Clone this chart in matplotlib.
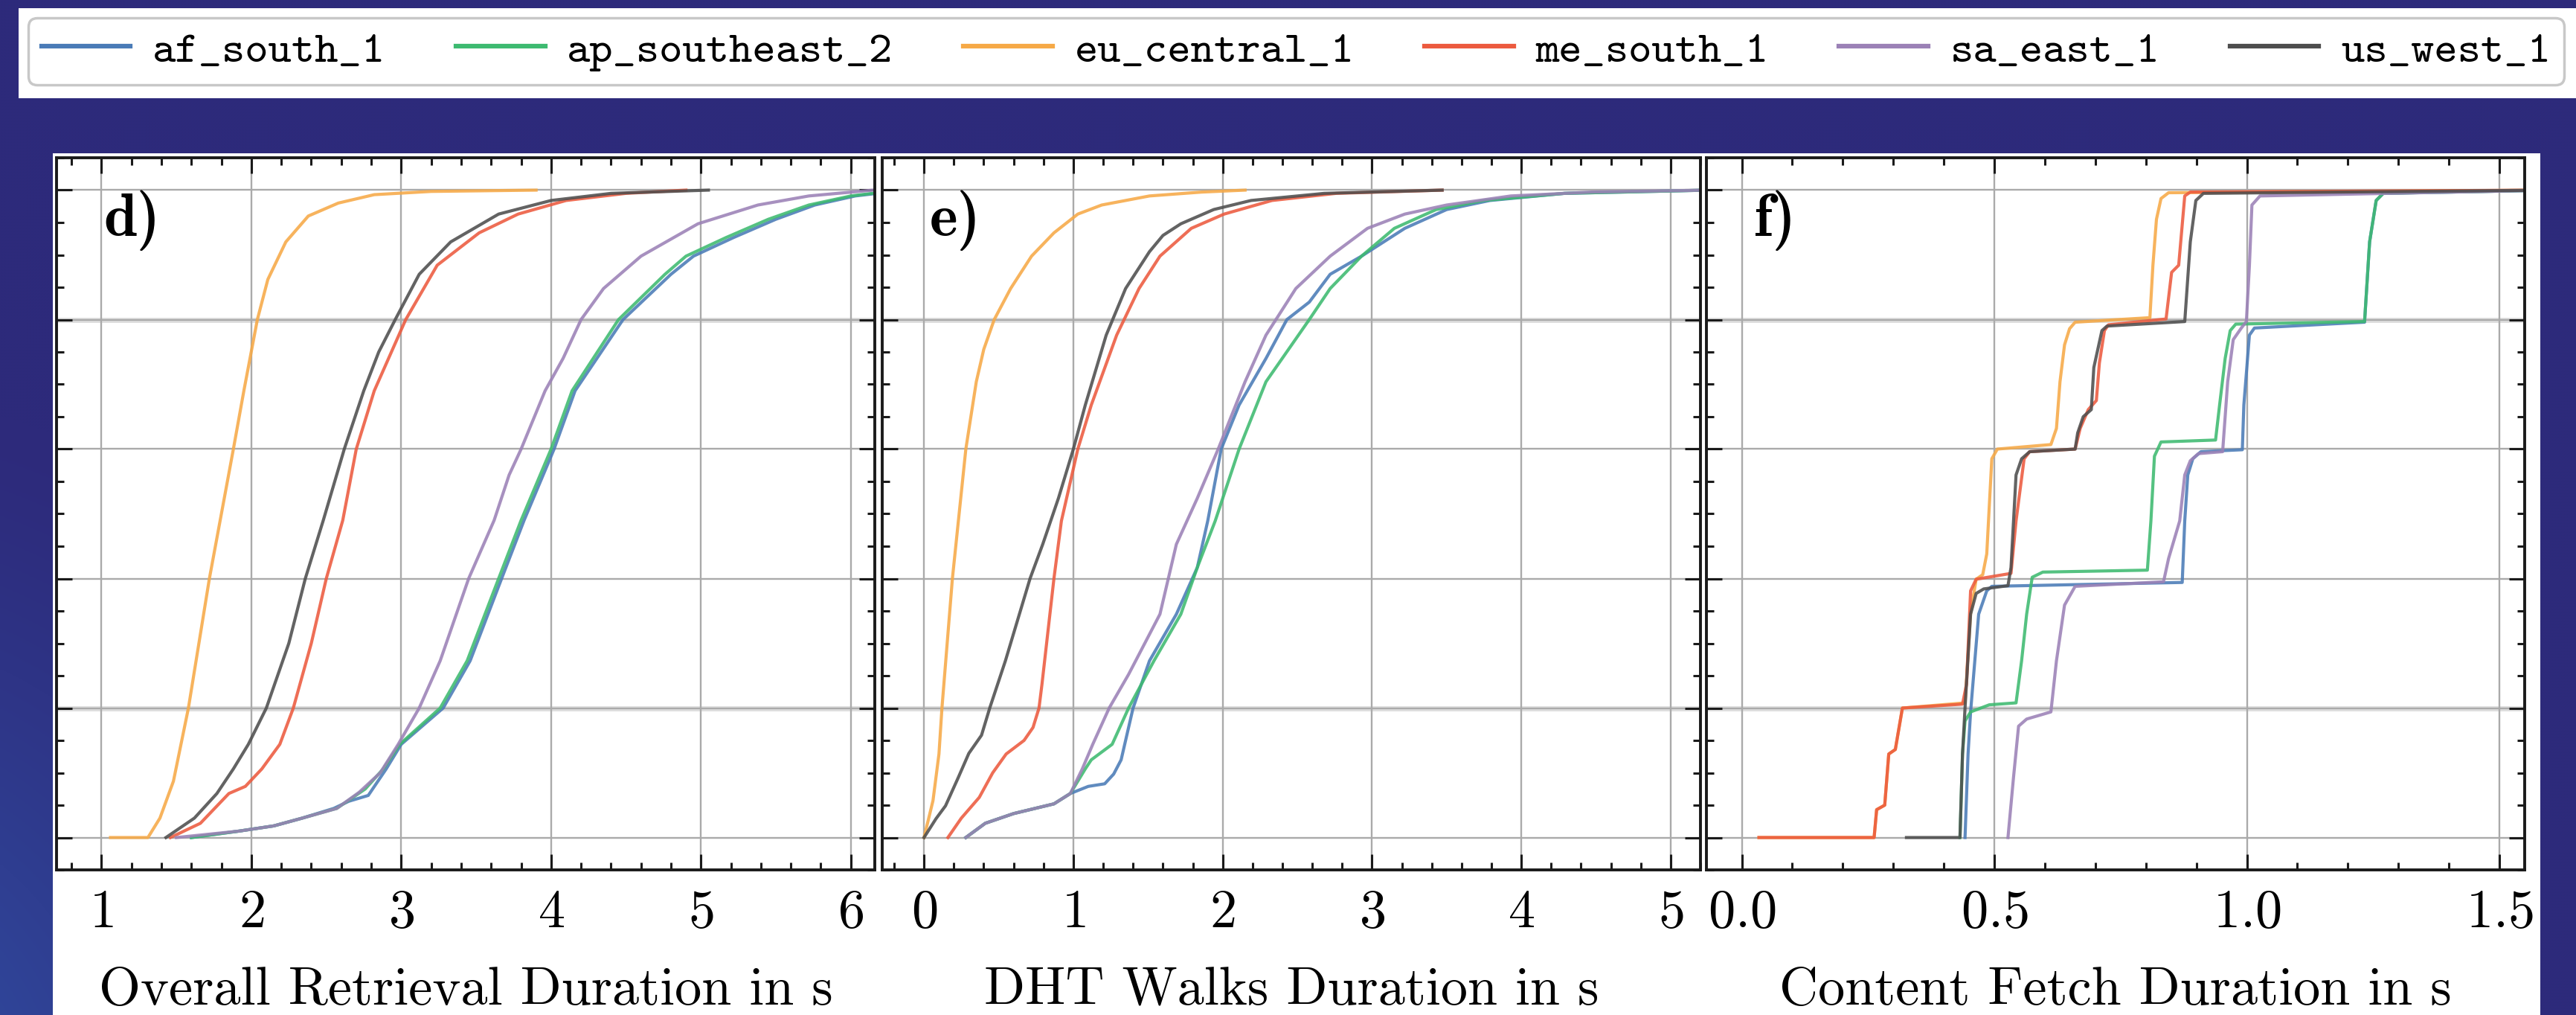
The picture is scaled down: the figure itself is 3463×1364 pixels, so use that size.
import numpy as np
import matplotlib
matplotlib.use("Agg")
import matplotlib.pyplot as plt
from matplotlib.patches import Rectangle
from matplotlib.ticker import MultipleLocator

# ---------------- data ----------------
REGIONS = ["af_south_1", "ap_southeast_2", "eu_central_1", "me_south_1", "sa_east_1", "us_west_1"]
COLORS = ["#4a7bb7", "#3dba70", "#f6a946", "#ec5a3e", "#9b81b6", "#4d4d4d"]
XLABELS = ["Overall Retrieval Duration in s", "DHT Walks Duration in s", "Content Fetch Duration in s"]
PANEL_TAGS = ["d)", "e)", "f)"]

# panel d : overall retrieval duration (CDF)
D_AF_X = [1.60, 1.92, 2.15, 2.34, 2.55, 2.65, 2.78, 2.90, 3.00, 3.28, 3.46, 3.67, 3.82, 4.02, 4.16, 4.48, 4.80, 4.95, 5.22, 5.50, 5.76, 6.03, 6.25]
D_AF_Y = [0.0, 0.01, 0.018, 0.03, 0.045, 0.056, 0.065, 0.106, 0.144, 0.2, 0.273, 0.4, 0.49, 0.6, 0.69, 0.8, 0.87, 0.898, 0.927, 0.955, 0.977, 0.991, 0.997]
D_AP_X = [1.60, 1.92, 2.15, 2.34, 2.57, 2.76, 2.88, 2.99, 3.26, 3.44, 3.65, 3.80, 4.00, 4.14, 4.45, 4.76, 4.90, 5.17, 5.45, 5.72, 6.00, 6.25]
D_AP_Y = [0.0, 0.01, 0.018, 0.03, 0.045, 0.075, 0.106, 0.144, 0.2, 0.273, 0.4, 0.49, 0.6, 0.69, 0.8, 0.87, 0.898, 0.927, 0.955, 0.977, 0.991, 0.998]
D_EU_X = [1.06, 1.31, 1.39, 1.48, 1.58, 1.72, 1.88, 1.95, 2.04, 2.11, 2.23, 2.38, 2.58, 2.82, 3.20, 3.90]
D_EU_Y = [0.0, 0.0, 0.03, 0.087, 0.2, 0.4, 0.6, 0.69, 0.8, 0.862, 0.92, 0.96, 0.98, 0.993, 0.998, 1.0]
D_ME_X = [1.46, 1.66, 1.85, 1.96, 2.07, 2.19, 2.28, 2.40, 2.50, 2.61, 2.70, 2.82, 3.03, 3.24, 3.52, 3.78, 4.10, 4.50, 4.90]
D_ME_Y = [0.0, 0.022, 0.068, 0.079, 0.106, 0.144, 0.2, 0.3, 0.4, 0.49, 0.6, 0.69, 0.8, 0.884, 0.934, 0.963, 0.984, 0.995, 1.0]
D_SA_X = [1.50, 1.92, 2.15, 2.34, 2.57, 2.72, 2.86, 2.98, 3.12, 3.26, 3.45, 3.62, 3.72, 3.80, 3.96, 4.08, 4.20, 4.35, 4.60, 4.98, 5.38, 5.72, 6.15]
D_SA_Y = [0.0, 0.01, 0.018, 0.03, 0.045, 0.07, 0.1, 0.144, 0.2, 0.273, 0.4, 0.49, 0.56, 0.6, 0.69, 0.74, 0.8, 0.848, 0.898, 0.948, 0.977, 0.991, 1.0]
D_US_X = [1.43, 1.62, 1.77, 1.88, 1.98, 2.10, 2.25, 2.36, 2.48, 2.62, 2.75, 2.85, 2.96, 3.12, 3.33, 3.65, 4.00, 4.40, 5.05]
D_US_Y = [0.0, 0.03, 0.068, 0.106, 0.144, 0.2, 0.3, 0.4, 0.49, 0.6, 0.69, 0.75, 0.8, 0.87, 0.92, 0.963, 0.984, 0.995, 1.0]

# panel e : DHT walks duration (CDF)
E_AF_X = [0.28, 0.41, 0.60, 0.87, 0.98, 1.10, 1.21, 1.27, 1.32, 1.40, 1.51, 1.69, 1.83, 1.90, 1.99, 2.11, 2.29, 2.43, 2.58, 2.72, 2.93, 3.22, 3.50, 3.79, 4.29, 5.25]
E_AF_Y = [0.0, 0.022, 0.037, 0.052, 0.068, 0.079, 0.083, 0.098, 0.12, 0.2, 0.273, 0.345, 0.417, 0.489, 0.6, 0.668, 0.74, 0.8, 0.827, 0.87, 0.898, 0.941, 0.97, 0.984, 0.995, 1.0]
E_AP_X = [0.28, 0.41, 0.60, 0.87, 0.98, 1.08, 1.12, 1.26, 1.37, 1.54, 1.72, 1.83, 1.95, 2.11, 2.29, 2.58, 2.72, 2.93, 3.15, 3.43, 3.75, 4.29, 5.25]
E_AP_Y = [0.0, 0.022, 0.037, 0.052, 0.068, 0.106, 0.12, 0.144, 0.2, 0.273, 0.345, 0.417, 0.489, 0.6, 0.704, 0.8, 0.848, 0.898, 0.941, 0.97, 0.984, 0.995, 1.0]
E_EU_X = [0.0, 0.06, 0.10, 0.12, 0.19, 0.28, 0.35, 0.40, 0.47, 0.58, 0.72, 0.87, 1.03, 1.19, 1.51, 1.86, 2.15]
E_EU_Y = [0.0, 0.057, 0.129, 0.2, 0.4, 0.6, 0.704, 0.754, 0.8, 0.848, 0.898, 0.934, 0.963, 0.977, 0.991, 0.997, 1.0]
E_ME_X = [0.16, 0.25, 0.37, 0.46, 0.55, 0.67, 0.73, 0.77, 0.79, 0.87, 0.92, 1.03, 1.12, 1.29, 1.44, 1.58, 1.79, 2.01, 2.33, 2.76, 3.47]
E_ME_Y = [0.0, 0.03, 0.062, 0.1, 0.129, 0.15, 0.17, 0.2, 0.237, 0.4, 0.489, 0.6, 0.668, 0.776, 0.848, 0.898, 0.941, 0.963, 0.984, 0.995, 1.0]
E_SA_X = [0.28, 0.41, 0.60, 0.87, 0.98, 1.06, 1.13, 1.24, 1.37, 1.58, 1.69, 1.83, 1.97, 2.15, 2.29, 2.49, 2.72, 2.97, 3.22, 3.50, 3.93, 4.47, 5.25]
E_SA_Y = [0.0, 0.022, 0.037, 0.052, 0.068, 0.106, 0.144, 0.2, 0.252, 0.345, 0.453, 0.524, 0.6, 0.704, 0.776, 0.848, 0.898, 0.941, 0.963, 0.977, 0.991, 0.997, 1.0]
E_US_X = [0.0, 0.08, 0.144, 0.23, 0.30, 0.385, 0.44, 0.545, 0.71, 0.795, 0.90, 1.0, 1.08, 1.22, 1.35, 1.51, 1.60, 1.72, 1.94, 2.19, 2.68, 3.47]
E_US_Y = [0.0, 0.029, 0.049, 0.093, 0.13, 0.158, 0.2, 0.273, 0.4, 0.453, 0.524, 0.6, 0.668, 0.776, 0.848, 0.905, 0.93, 0.948, 0.97, 0.984, 0.995, 1.0]

# panel f : content fetch duration (CDF, step-like)
F_AF_X = [0.442, 0.448, 0.453, 0.469, 0.485, 0.495, 0.872, 0.877, 0.883, 0.893, 0.909, 0.991, 0.994, 1.005, 1.015, 1.233, 1.243, 1.256, 1.270, 1.60]
F_AF_Y = [0.0, 0.129, 0.194, 0.345, 0.381, 0.388, 0.394, 0.489, 0.56, 0.585, 0.596, 0.599, 0.668, 0.776, 0.787, 0.796, 0.92, 0.984, 0.995, 1.0]
F_AP_X = [0.432, 0.437, 0.442, 0.453, 0.490, 0.543, 0.554, 0.564, 0.575, 0.596, 0.803, 0.810, 0.817, 0.830, 0.938, 0.946, 0.957, 0.967, 0.978, 1.233, 1.243, 1.256, 1.270, 1.60]
F_AP_Y = [0.0, 0.129, 0.18, 0.194, 0.205, 0.208, 0.273, 0.345, 0.402, 0.41, 0.413, 0.489, 0.589, 0.611, 0.614, 0.668, 0.74, 0.783, 0.793, 0.797, 0.92, 0.984, 0.995, 1.0]
F_EU_X = [0.034, 0.262, 0.267, 0.283, 0.291, 0.304, 0.318, 0.442, 0.453, 0.464, 0.477, 0.485, 0.495, 0.506, 0.612, 0.623, 0.630, 0.639, 0.649, 0.660, 0.808, 0.814, 0.821, 0.830, 0.845, 1.60]
F_EU_Y = [0.0, 0.0, 0.043, 0.05, 0.129, 0.136, 0.2, 0.208, 0.346, 0.399, 0.406, 0.438, 0.585, 0.6, 0.607, 0.632, 0.704, 0.761, 0.786, 0.796, 0.803, 0.884, 0.955, 0.987, 0.996, 1.0]
F_ME_X = [0.034, 0.262, 0.267, 0.283, 0.291, 0.304, 0.318, 0.437, 0.445, 0.453, 0.464, 0.533, 0.543, 0.559, 0.570, 0.660, 0.670, 0.686, 0.702, 0.708, 0.718, 0.726, 0.840, 0.851, 0.865, 0.877, 0.888, 1.60]
F_ME_Y = [0.0, 0.0, 0.043, 0.05, 0.129, 0.136, 0.2, 0.206, 0.237, 0.381, 0.399, 0.408, 0.489, 0.585, 0.596, 0.6, 0.632, 0.661, 0.675, 0.733, 0.783, 0.792, 0.801, 0.873, 0.884, 0.991, 0.997, 1.0]
F_SA_X = [0.527, 0.538, 0.548, 0.564, 0.612, 0.623, 0.639, 0.660, 0.835, 0.845, 0.856, 0.867, 0.877, 0.888, 0.904, 0.952, 0.962, 0.973, 0.989, 0.999, 1.005, 1.010, 1.026, 1.60]
F_SA_Y = [0.0, 0.093, 0.172, 0.183, 0.194, 0.273, 0.359, 0.388, 0.395, 0.431, 0.46, 0.489, 0.56, 0.582, 0.593, 0.596, 0.704, 0.769, 0.787, 0.797, 0.883, 0.977, 0.991, 1.0]
F_US_X = [0.326, 0.432, 0.437, 0.442, 0.453, 0.464, 0.479, 0.527, 0.533, 0.543, 0.554, 0.570, 0.660, 0.665, 0.676, 0.692, 0.697, 0.713, 0.723, 0.877, 0.888, 0.899, 0.914, 1.60]
F_US_Y = [0.0, 0.0, 0.129, 0.2, 0.345, 0.377, 0.384, 0.389, 0.417, 0.56, 0.585, 0.596, 0.6, 0.625, 0.65, 0.661, 0.726, 0.783, 0.79, 0.797, 0.92, 0.984, 0.995, 1.0]

PANELS = [
    [(D_AF_X, D_AF_Y), (D_AP_X, D_AP_Y), (D_EU_X, D_EU_Y), (D_ME_X, D_ME_Y), (D_SA_X, D_SA_Y), (D_US_X, D_US_Y)],
    [(E_AF_X, E_AF_Y), (E_AP_X, E_AP_Y), (E_EU_X, E_EU_Y), (E_ME_X, E_ME_Y), (E_SA_X, E_SA_Y), (E_US_X, E_US_Y)],
    [(F_AF_X, F_AF_Y), (F_AP_X, F_AP_Y), (F_EU_X, F_EU_Y), (F_ME_X, F_ME_Y), (F_SA_X, F_SA_Y), (F_US_X, F_US_Y)],
]
XLIMS = [(0.70, 6.16), (-0.28, 5.20), (-0.07, 1.55)]
XMAJOR = [1.0, 1.0, 0.5]
XMINOR = [0.2, 0.2, 0.1]

# ---------------- styling ----------------
plt.rcParams["font.family"] = ["cmr10", "DejaVu Serif"]
plt.rcParams["mathtext.fontset"] = "cm"
plt.rcParams["axes.formatter.use_mathtext"] = True

W, H, DPI = 3463, 1364, 100
fig = plt.figure(figsize=(W / DPI, H / DPI), dpi=DPI)
BG = "#2d2a7b"
fig.patch.set_facecolor(BG)

# slide background with a soft lighter glow at bottom-left
bg = fig.add_axes([0, 0, 1, 1], zorder=-10)
yy, xx = np.mgrid[0:H:4, 0:W:4]
dist = np.hypot(xx + 300.0, yy - (H + 150.0))
wgt = np.clip(1 - dist / 1000.0, 0, 1) ** 1.3 * 0.9
base = np.array([45, 42, 123]) / 255.0
light = np.array([50, 92, 178]) / 255.0
img = base * (1 - wgt[..., None]) + light * wgt[..., None]
bg.imshow(img, extent=[0, W, H, 0], aspect="auto", interpolation="bilinear")
bg.set_xlim(0, W)
bg.set_ylim(H, 0)
bg.axis("off")


def frect(x0, y0, x1, y1, **kw):
    return Rectangle((x0 / W, 1 - y1 / H), (x1 - x0) / W, (y1 - y0) / H,
                     transform=fig.transFigure, **kw)


fig.add_artist(frect(25, 11, W, 132, facecolor="white", edgecolor="none", zorder=-5))
fig.add_artist(frect(71, 206, 3415, H, facecolor="white", edgecolor="none", zorder=-5))

AX_LR = [(76, 1176), (1186, 2286), (2294, 3394)]
TOP, BOT = 212, 1169

handles = []
for i, (l, r) in enumerate(AX_LR):
    ax = fig.add_axes([l / W, 1 - BOT / H, (r - l) / W, (BOT - TOP) / H])
    ax.set_facecolor("white")
    # the 0.2 / 0.8 rows look like broader, paler bands in the reference
    for yb in (0.2, 0.8):
        ax.axhline(yb, color="#dedede", lw=5.0, zorder=0.4)
    for k, (xs, ys) in enumerate(PANELS[i]):
        ln, = ax.plot(xs, ys, color=COLORS[k], lw=3.0, alpha=0.88,
                      solid_joinstyle="round", label=REGIONS[k])
        if i == 0:
            handles.append(ln)
    ax.set_xlim(*XLIMS[i])
    ax.set_ylim(-0.05, 1.05)
    ax.xaxis.set_major_locator(MultipleLocator(XMAJOR[i]))
    ax.xaxis.set_minor_locator(MultipleLocator(XMINOR[i]))
    ax.yaxis.set_major_locator(MultipleLocator(0.2))
    ax.yaxis.set_minor_locator(MultipleLocator(0.05))
    ax.grid(True, which="major", color="#aaaaaa", lw=1.7)
    ax.set_axisbelow(True)
    for s in ax.spines.values():
        s.set_linewidth(2.8)
        s.set_color("#1a1a1a")
    ax.tick_params(which="both", direction="in", top=True, bottom=True,
                   left=True, right=True, labelleft=False, width=2.2,
                   color="#1a1a1a")
    ax.tick_params(which="major", length=15)
    ax.tick_params(which="minor", length=7.5)
    ax.tick_params(axis="x", which="major", labelsize=52, pad=19)
    ax.set_xlabel(XLABELS[i], fontsize=52, labelpad=28)
    ax.text(0.058, 0.955, PANEL_TAGS[i], transform=ax.transAxes,
            fontsize=58, family=["cmb10", "DejaVu Serif"],
            va="top", ha="left")

leg = fig.legend(handles=handles, labels=REGIONS, loc="center",
                 bbox_to_anchor=(38 / W, 1 - 118 / H, (3447 - 38) / W, (118 - 20) / H),
                 mode="expand", ncol=6, borderaxespad=0,
                 prop={"family": ["cmtt10", "DejaVu Sans Mono"], "size": 43},
                 handlelength=2.0, handletextpad=0.5, borderpad=0.3,
                 frameon=True, fancybox=True, edgecolor="#c8c8c8",
                 facecolor="white", framealpha=1.0)
leg.get_frame().set_linewidth(2.5)
for h in leg.legend_handles:
    h.set_linewidth(4.5)
    h.set_alpha(1.0)

fig.savefig("out.png", dpi=DPI, facecolor=fig.get_facecolor())
